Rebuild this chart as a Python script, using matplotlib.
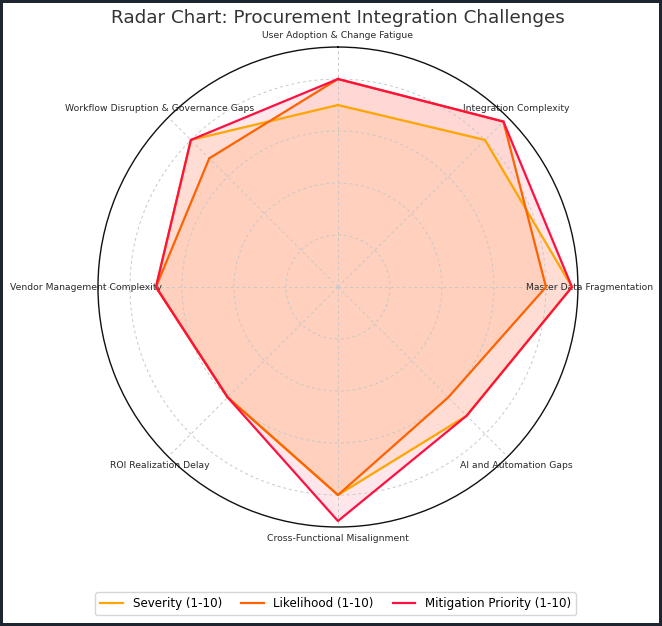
import numpy as np
import matplotlib
matplotlib.use("Agg")
import matplotlib.pyplot as plt

# categories (clockwise from top)
categories = [
    "User Adoption & Change Fatigue",
    "Integration Complexity",
    "Master Data Fragmentation",
    "AI and Automation Gaps",
    "Cross-Functional Misalignment",
    "ROI Realization Delay",
    "Vendor Management Complexity",
    "Workflow Disruption & Governance Gaps",
]

severity = [7, 8, 9, 7, 8, 6, 7, 8]
likelihood = [8, 9, 8, 6, 8, 6, 7, 7]
mitigation = [8, 9, 9, 7, 9, 6, 7, 8]

series_names = ["Severity (1-10)", "Likelihood (1-10)", "Mitigation Priority (1-10)"]
series_colors = ["#FFA500", "#FF6200", "#FF1040"]

n = len(categories)
angles = np.linspace(0, 2 * np.pi, n, endpoint=False).tolist()
angles_closed = angles + angles[:1]

fig = plt.figure(figsize=(6.62, 6.26), dpi=100)
fig.patch.set_edgecolor("#1c2530")
fig.patch.set_linewidth(3)
ax = fig.add_axes([0.148, 0.158, 0.725, 0.767], polar=True)
ax.set_theta_offset(np.pi / 2)
ax.set_theta_direction(-1)

for vals, name, col in zip([severity, likelihood, mitigation], series_names, series_colors):
    v = vals + vals[:1]
    ax.plot(angles_closed, v, color=col, linewidth=1.6, label=name)
    ax.fill(angles_closed, v, color=col, alpha=0.1)

ax.set_ylim(0, 9.23)
ax.set_yticks([2, 4, 6, 8])
ax.set_yticklabels([])
ax.set_xticks(angles)
ax.set_xticklabels(categories, fontsize=6.7, color="#2a2a2a")
ax.tick_params(axis="x", pad=-2)
ax.grid(color="#c8c8c8", linestyle=(0, (3, 3)), linewidth=0.7)
ax.spines["polar"].set_color("#111111")
ax.spines["polar"].set_linewidth(1.0)

fig.suptitle("Radar Chart: Procurement Integration Challenges", fontsize=13.2,
             color="#333333", x=0.511, y=0.985)
fig.legend(loc="lower center", ncol=3, fontsize=8.6, bbox_to_anchor=(0.507, 0.008),
           handlelength=1.9, columnspacing=1.6)

fig.savefig("out.png", dpi=100)
